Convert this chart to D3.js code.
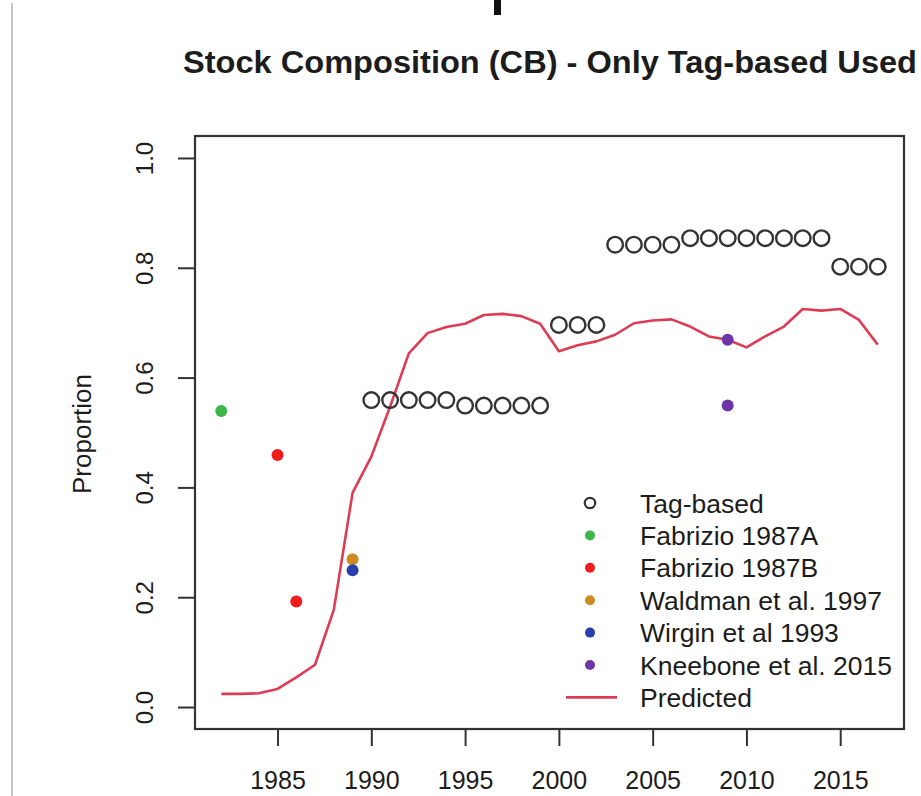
<!DOCTYPE html>
<html>
<head>
<meta charset="utf-8">
<script src="https://cdn.jsdelivr.net/npm/d3@7"></script>
<style>
  body { margin: 0; background: #fff; }
  svg text { font-family: "Liberation Sans", Arial, Helvetica, sans-serif; fill: #1c1c1c; }
</style>
</head>
<body>
<div id="my_dataviz"></div>
<script>
// data
const predYears = [1982, 1983, 1984, 1985, 1986, 1987, 1988, 1989, 1990, 1991, 1992, 1993,
  1994, 1995, 1996, 1997, 1998, 1999, 2000, 2001, 2002, 2003, 2004, 2005, 2006, 2007,
  2008, 2009, 2010, 2011, 2012, 2013, 2014, 2015, 2016, 2017];
const predicted = [0.024, 0.024, 0.025, 0.033, 0.054, 0.077, 0.177, 0.39, 0.456, 0.547, 0.644, 0.681,
  0.692, 0.698, 0.714, 0.716, 0.712, 0.698, 0.648, 0.659, 0.666, 0.678, 0.699, 0.704, 0.706, 0.693,
  0.675, 0.669, 0.655, 0.675, 0.693, 0.725, 0.722, 0.725, 0.705, 0.66];

const tagYears = [1990, 1991, 1992, 1993, 1994, 1995, 1996, 1997, 1998, 1999, 2000, 2001, 2002,
  2003, 2004, 2005, 2006, 2007, 2008, 2009, 2010, 2011, 2012, 2013, 2014, 2015, 2016, 2017];
const tagValues = [0.559, 0.559, 0.559, 0.559, 0.559, 0.549, 0.549, 0.549, 0.549, 0.549, 0.696, 0.696, 0.696,
  0.842, 0.842, 0.842, 0.842, 0.854, 0.854, 0.854, 0.854, 0.854, 0.854, 0.854, 0.854, 0.802, 0.802, 0.802];

const fabAYears = [1982], fabAValues = [0.539];
const fabBYears = [1985, 1986], fabBValues = [0.459, 0.192];
const waldYears = [1989], waldValues = [0.269];
const wirgYears = [1989], wirgValues = [0.249];
const kneeYears = [2009, 2009], kneeValues = [0.669, 0.549];

const xTicks = [1985, 1990, 1995, 2000, 2005, 2010, 2015];
const yTicks = [0, 0.2, 0.4, 0.6, 0.8, 1.0];

const legendLabels = ["Tag-based", "Fabrizio 1987A", "Fabrizio 1987B", "Waldman et al. 1997",
  "Wirgin et al 1993", "Kneebone et al. 2015", "Predicted"];
const legendColors = ["#333", "#3cb84a", "#ee1c1c", "#d08a22", "#2a3fae", "#6d35a6", "#dd3c55"];

const W = 921, H = 796;
const margin = {top: 136, right: 17, bottom: 67, left: 195};

const svg = d3.select("#my_dataviz")
  .append("svg")
  .attr("width", W)
  .attr("height", H);

// stray bits of the scanned page
svg.append("rect").attr("x", 11).attr("y", 3).attr("width", 2).attr("height", H - 3).attr("fill", "#c4c4c4");
svg.append("rect").attr("x", 494).attr("y", 0).attr("width", 7).attr("height", 15).attr("fill", "#111");

const x = d3.scaleLinear()
  .domain([1980.6, 2018.4])
  .range([margin.left, W - margin.right]);
const y = d3.scaleLinear()
  .domain([-0.04, 1.04])
  .range([H - margin.bottom, margin.top]);

// title
svg.append("text")
  .attr("x", 550)
  .attr("y", 73)
  .attr("text-anchor", "middle")
  .style("font-size", "31px")
  .style("font-weight", "bold")
  .attr("textLength", 734)
  .attr("lengthAdjust", "spacingAndGlyphs")
  .text("Stock Composition (CB) - Only Tag-based Used");

// y label
svg.append("text")
  .attr("transform", "translate(91,434) rotate(-90)")
  .attr("text-anchor", "middle")
  .style("font-size", "26px")
  .text("Proportion");

// X axis
const gx = svg.append("g")
  .attr("transform", `translate(0, ${H - margin.bottom})`)
  .call(d3.axisBottom(x).tickValues(xTicks).tickSize(17).tickFormat(d3.format("d")));
gx.select(".domain").remove();
gx.selectAll("line").attr("stroke", "#333").attr("stroke-width", 2);
gx.selectAll("text")
  .attr("y", 60)
  .attr("dy", null)
  .attr("fill", "#1c1c1c")
  .style("font-size", "25px");

// Y axis
const gy = svg.append("g")
  .attr("transform", `translate(${margin.left}, 0)`)
  .call(d3.axisLeft(y).tickValues(yTicks).tickSize(17).tickFormat(d3.format(".1f")));
gy.select(".domain").remove();
gy.selectAll("line").attr("stroke", "#333").attr("stroke-width", 2);
gy.selectAll("text")
  .attr("transform", "rotate(-90)")
  .attr("x", 0)
  .attr("y", -42)
  .attr("dy", null)
  .attr("text-anchor", "middle")
  .attr("fill", "#1c1c1c")
  .style("font-size", "24px");

// box
svg.append("rect")
  .attr("x", margin.left)
  .attr("y", margin.top)
  .attr("width", W - margin.right - margin.left)
  .attr("height", H - margin.bottom - margin.top)
  .attr("fill", "none")
  .attr("stroke", "#333")
  .attr("stroke-width", 2.2);

// predicted line
const line = d3.line()
  .x(d => x(d[0]))
  .y(d => y(d[1]));
svg.append("path")
  .datum(d3.zip(predYears, predicted))
  .attr("d", line)
  .attr("fill", "none")
  .attr("stroke", legendColors[6])
  .attr("stroke-width", 2.6)
  .attr("stroke-linejoin", "round");

// tag-based circles
svg.selectAll("circle.tag")
  .data(d3.zip(tagYears, tagValues))
  .join("circle")
  .attr("class", "tag")
  .attr("cx", d => x(d[0]))
  .attr("cy", d => y(d[1]))
  .attr("r", 7.8)
  .attr("fill", "none")
  .attr("stroke", "#333")
  .attr("stroke-width", 2.4);

// literature points
const pointSets = [
  [fabAYears, fabAValues, legendColors[1]],
  [fabBYears, fabBValues, legendColors[2]],
  [waldYears, waldValues, legendColors[3]],
  [wirgYears, wirgValues, legendColors[4]],
  [kneeYears, kneeValues, legendColors[5]]
];
pointSets.forEach(([yrs, vals, col]) => {
  svg.append("g").selectAll("circle")
    .data(d3.zip(yrs, vals))
    .join("circle")
    .attr("cx", d => x(d[0]))
    .attr("cy", d => y(d[1]))
    .attr("r", 6)
    .attr("fill", col);
});

// legend (no box)
const lg = svg.append("g").attr("transform", "translate(0, 503)");
legendLabels.forEach((lab, i) => {
  const row = lg.append("g").attr("transform", `translate(0, ${i * 32.4})`);
  if (i === 0) {
    row.append("circle").attr("cx", 590).attr("cy", 0).attr("r", 5.2)
      .attr("fill", "none").attr("stroke", "#333").attr("stroke-width", 2.2);
  } else if (i === 6) {
    row.append("line").attr("x1", 566).attr("x2", 617).attr("y1", 0).attr("y2", 0)
      .attr("stroke", legendColors[6]).attr("stroke-width", 2.6);
  } else {
    row.append("circle").attr("cx", 590).attr("cy", 0).attr("r", 5).attr("fill", legendColors[i]);
  }
  row.append("text")
    .attr("x", 640)
    .attr("y", 0)
    .attr("dy", "0.36em")
    .style("font-size", "26.5px")
    .text(lab);
});
</script>
</body>
</html>
